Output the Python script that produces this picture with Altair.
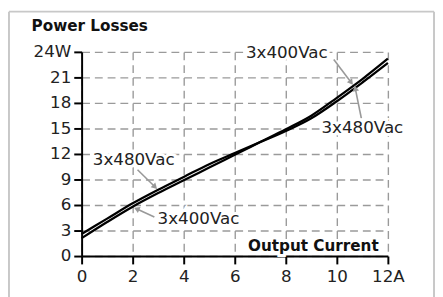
import math
import altair as alt
import pandas as pd

# ---- data ----
current = [0, 1, 2, 3, 4, 5, 6, 7, 8, 9, 10, 11, 12]
p400 = [2.1, 4.0, 5.8, 7.4, 8.9, 10.4, 11.9, 13.4, 14.9, 16.5, 18.6, 20.8, 23.2]
p480 = [2.6, 4.4, 6.2, 7.8, 9.3, 10.8, 12.1, 13.4, 14.7, 16.2, 18.2, 20.4, 22.7]

x_ticks = [0, 2, 4, 6, 8, 10, 12]
y_ticks = [0, 3, 6, 9, 12, 15, 18, 21, 24]

ann_text = ["3x400Vac", "3x480Vac", "3x480Vac", "3x400Vac"]
ann_x = [8.04, 11.0, 2.04, 4.58]
ann_y = [23.8, 15.0, 11.3, 4.4]
arr_x1 = [9.88, 10.96, 2.19, 2.85]
arr_y1 = [23.1, 16.2, 10.15, 4.6]
arr_x2 = [10.54, 10.73, 2.85, 2.19]
arr_y2 = [20.5, 19.6, 8.2, 5.5]

title_text = "Power Losses"
xlabel_text = "Output Current"
xlabel_x = [9.08]
xlabel_y = [1.2]

W, H = 312, 208
FONT = "DejaVu Sans"

lines = pd.DataFrame(
    [{"I": c, "P": v, "s": "3x400Vac"} for c, v in zip(current, p400)]
    + [{"I": c, "P": v, "s": "3x480Vac"} for c, v in zip(current, p480)]
)
ann = pd.DataFrame({"t": ann_text, "x": ann_x, "y": ann_y})

px_x = W / 12.0
px_y = H / 24.0
angles = []
for a, b, c, d in zip(arr_x1, arr_y1, arr_x2, arr_y2):
    dx = (c - a) * px_x
    dy = -(d - b) * px_y
    angles.append(math.degrees(math.atan2(dx, -dy)) % 360)
arrows = pd.DataFrame({"x1": arr_x1, "y1": arr_y1, "x2": arr_x2, "y2": arr_y2, "ang": angles})
xl = pd.DataFrame({"t": [xlabel_text], "x": xlabel_x, "y": xlabel_y})

xs = alt.Scale(domain=[0, 12], nice=False)
ys = alt.Scale(domain=[0, 24], nice=False)

axis_style = dict(
    labelFont=FONT, labelFontSize=17, labelColor="#222222",
    domainColor="black", domainWidth=2, tickColor="black", tickWidth=2, tickSize=8,
    grid=True, gridColor="#9a9a9a", gridDash=[8, 5], gridWidth=1.4,
    labelOverlap=False, labelFlush=False, title=None,
)
x_axis = alt.Axis(values=x_ticks, labelExpr="datum.value == 12 ? '12A' : datum.label",
                  labelPadding=5, **axis_style)
y_axis = alt.Axis(values=y_ticks, labelExpr="datum.value == 24 ? '24W' : datum.label",
                  labelPadding=3, **axis_style)


def X(f):
    return alt.X(f, scale=xs, axis=x_axis)


def Y(f):
    return alt.Y(f, scale=ys, axis=y_axis)


base_lines = alt.Chart(lines).mark_line(
    color="black", strokeWidth=2.3, interpolate="monotone"
).encode(x=X("I:Q"), y=Y("P:Q"), detail="s:N")

arrow_lines = alt.Chart(arrows).mark_rule(color="#999999", strokeWidth=1.6).encode(
    x=X("x1:Q"), y=Y("y1:Q"), x2="x2:Q", y2="y2:Q"
)
arrow_heads = alt.Chart(arrows).mark_point(
    shape="triangle", filled=True, color="#999999", size=45, opacity=1
).encode(x=X("x2:Q"), y=Y("y2:Q"), angle=alt.Angle("ang:Q", scale=None))

ann_halo = alt.Chart(ann).mark_text(
    font=FONT, fontSize=17, color="white", stroke="white", strokeWidth=6
).encode(x=X("x:Q"), y=Y("y:Q"), text="t:N")
ann_text_l = alt.Chart(ann).mark_text(font=FONT, fontSize=17, color="#222222").encode(
    x=X("x:Q"), y=Y("y:Q"), text="t:N"
)

xl_halo = alt.Chart(xl).mark_text(
    font=FONT, fontSize=15.5, fontWeight="bold", color="white", stroke="white", strokeWidth=6
).encode(x=X("x:Q"), y=Y("y:Q"), text="t:N")
xl_text = alt.Chart(xl).mark_text(
    font=FONT, fontSize=15.5, fontWeight="bold", color="#111111"
).encode(x=X("x:Q"), y=Y("y:Q"), text="t:N")

title = alt.Chart(alt.Data(values=[{}])).mark_text(
    font=FONT, fontSize=15.5, fontWeight="bold", color="#111111", align="left", baseline="alphabetic"
).encode(x=alt.value(-51), y=alt.value(-21), text=alt.value(title_text))

frame_top = alt.Chart(alt.Data(values=[{}])).mark_rule(color="#c8c8c8", strokeWidth=2).encode(
    x=alt.value(-74), x2=alt.value(359), y=alt.value(-41)
)
frame_left = alt.Chart(alt.Data(values=[{}])).mark_rule(color="#c8c8c8", strokeWidth=2).encode(
    x=alt.value(-74), y=alt.value(-41), y2=alt.value(260)
)
frame_right = alt.Chart(alt.Data(values=[{}])).mark_rule(color="#c8c8c8", strokeWidth=2).encode(
    x=alt.value(359), y=alt.value(-41), y2=alt.value(260)
)

chart = alt.layer(
    frame_top, frame_left, frame_right, title,
    base_lines, arrow_lines, arrow_heads, ann_halo, ann_text_l, xl_halo, xl_text,
).properties(
    width=W, height=H,
    padding={"left": 75, "top": 42, "right": 48, "bottom": 39},
    autosize=alt.AutoSizeParams(type="none"),
    background="white",
).configure_view(stroke=None, clip=False)

chart.save("out.html", embed_options={"renderer": "svg", "actions": False})
